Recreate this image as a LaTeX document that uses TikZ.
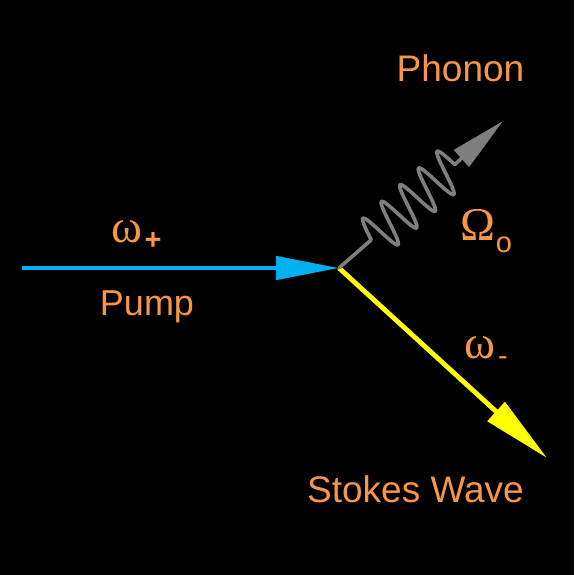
\documentclass[tikz,border=0pt]{standalone}
\usepackage{fontspec}
\setmainfont{Liberation Sans}
\newfontfamily\greekserif{Liberation Serif}
\usetikzlibrary{arrows.meta}
\definecolor{labelorange}{HTML}{F79646}
\definecolor{pumpblue}{HTML}{00B0F0}
\definecolor{stokesyellow}{HTML}{FFFF00}
\definecolor{phonongray}{HTML}{7F7F7F}
\begin{document}
\begin{tikzpicture}[x=1pt,y=-1pt,
  lbl/.style={text=labelorange, inner sep=0pt, font=\fontsize{37}{40}\selectfont},
  glbl/.style={text=labelorange, inner sep=0pt, font=\greekserif\fontsize{47}{50}\selectfont},
  sublbl/.style={text=labelorange, inner sep=0pt, font=\fontsize{29}{32}\selectfont},
  beam/.style={line width=4.8pt},
  wave/.style={line width=3.6pt, line join=round, line cap=round}]
\fill[black] (0,0) rectangle (574,575);
\useasboundingbox (0,0) rectangle (574,575);
% vertex and end points
\coordinate (V) at (339,268);
\coordinate (P0) at (22,268);
\coordinate (Y) at (547,458);
\coordinate (G) at (503,121);
\coordinate (Ws) at ({340+0.7426*42},{268-0.6697*42});
\coordinate (We) at ({340+0.7426*154.5},{268-0.6697*154.5});
% pump
\draw[beam, pumpblue, -{Triangle[length=63pt,width=23pt]}] (P0) -- (V);
% stokes
\draw[beam, stokesyellow, -{Triangle[length=69pt,width=25pt]}] (V) -- (Y);
% phonon
\draw[wave, phonongray] (V) -- (Ws)
  plot[domain=0:1620, samples=400, smooth]
  ({340+0.7426*(42+\x/14.4+2*sin(\x))-0.6697*21.5*sin(\x)},
   {268-0.6697*(42+\x/14.4+2*sin(\x))-0.7426*21.5*sin(\x)});
\draw[wave, line cap=butt, phonongray, -{Triangle[length=56pt,width=22pt]}] (We) -- (G);
% labels
\node[lbl, anchor=base] (phonon) at (460.5,82) {Phonon};
\node[lbl, anchor=base] (stokes) at (415.5,502) {Stokes Wave};
\node[lbl, anchor=base, font=\fontsize{36}{40}\selectfont] (pump) at (147,315) {Pump};
\node[glbl, anchor=base] (wp) at (127,242) {ω};
\node[sublbl, font=\bfseries\fontsize{29}{32}\selectfont] (wpsub) at (153,241) {+};
\node[glbl, anchor=base] (Om) at (478,240) {Ω};
\node[sublbl] (Omsub) at (504,245) {o};
\node[glbl, anchor=base] (wm) at (480,358) {ω};
\node[sublbl] (wmsub) at (503,361) {-};
\end{tikzpicture}
\end{document}
